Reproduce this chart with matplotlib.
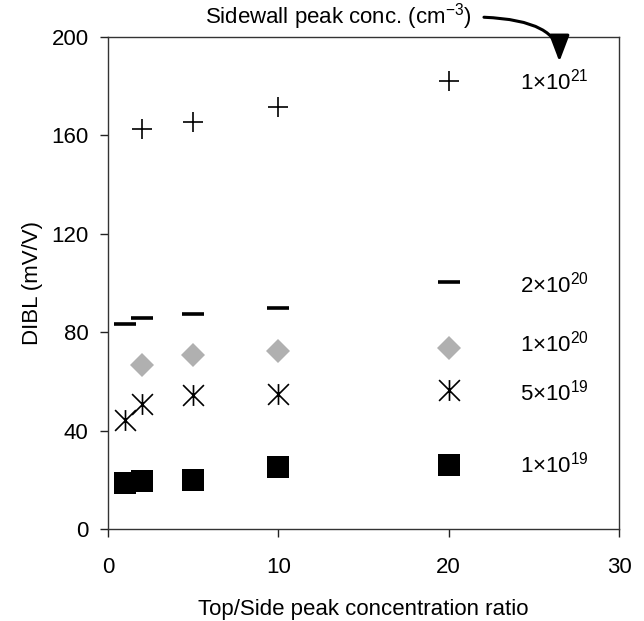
import matplotlib
matplotlib.use("Agg")
import matplotlib.pyplot as plt
from matplotlib.path import Path

plt.rcParams['font.family'] = ['Liberation Sans', 'DejaVu Sans']
plt.rcParams['mathtext.fontset'] = 'custom'
plt.rcParams['mathtext.rm'] = 'Liberation Sans'
plt.rcParams['mathtext.it'] = 'Liberation Sans:italic'
plt.rcParams['mathtext.bf'] = 'Liberation Sans:bold'

# Data (Top/Side peak concentration ratio vs DIBL in mV/V)
x_1e21 = [2, 5, 10, 20]
y_1e21 = [162.5, 165.6, 171.7, 182.0]
x_2e20 = [1, 2, 5, 10, 20]
y_2e20 = [83.3, 85.8, 87.5, 90.0, 100.5]
x_1e20 = [2, 5, 10, 20]
y_1e20 = [66.7, 70.7, 72.5, 73.5]
x_5e19 = [1, 2, 5, 10, 20]
y_5e19 = [44.3, 51.0, 54.5, 54.9, 56.5]
x_1e19 = [1, 2, 5, 10, 20]
y_1e19 = [18.7, 19.7, 20.1, 25.2, 26.1]

series_labels = [r'1×10$^{21}$', r'2×10$^{20}$', r'1×10$^{20}$', r'5×10$^{19}$', r'1×10$^{19}$']
label_y = [182, 99.5, 75.5, 55.5, 26]
label_x = 24.2

x_ticks = [0, 10, 20, 30]
y_ticks = [0, 40, 80, 120, 160, 200]

# asterisk: vertical bar + X
ast = Path([(0, -1), (0, 1), (-1, -1), (1, 1), (-1, 1), (1, -1)],
           [Path.MOVETO, Path.LINETO, Path.MOVETO, Path.LINETO, Path.MOVETO, Path.LINETO])

fig = plt.figure(figsize=(6.44, 6.21), dpi=100)
ax = fig.add_axes([108/644, 1-529/621, (619-108)/644, (529-37)/621])

ax.plot(x_1e21, y_1e21, ls='none', marker='+', ms=15, mew=1.2, color='black')
ax.plot(x_2e20, y_2e20, ls='none', marker='_', ms=16, mew=2.6, color='black')
ax.plot(x_1e20, y_1e20, ls='none', marker='D', ms=12, mew=0, color='#b0b0b0')
ax.plot(x_5e19, y_5e19, ls='none', marker=ast, ms=15, mew=1.2, color='black',
        markerfacecolor='none')
ax.plot(x_1e19, y_1e19, ls='none', marker='s', ms=15.5, mew=0, color='black')

for lab, ly in zip(series_labels, label_y):
    ax.text(label_x, ly, lab, fontsize=16, ha='left', va='center')

ax.set_xlim(0, 30)
ax.set_ylim(0, 200)
ax.set_xticks(x_ticks)
ax.set_yticks(y_ticks)
ax.tick_params(axis='both', direction='out', length=6, width=1, labelsize=16, color='#222222')
ax.tick_params(axis='x', pad=14)
ax.tick_params(axis='y', pad=8)
for s in ax.spines.values():
    s.set_color('#333333')
    s.set_linewidth(1)

ax.set_xlabel('Top/Side peak concentration ratio', fontsize=16, labelpad=15)
ax.set_ylabel('DIBL (mV/V)', fontsize=16, labelpad=6)

ax.annotate(r'Sidewall peak conc. (cm$^{-3}$)', xy=(26.5, 190), xycoords='data',
            xytext=(205/644, 1-17/621), textcoords='figure fraction',
            ha='left', va='center', fontsize=16, annotation_clip=False,
            arrowprops=dict(arrowstyle='-|>,head_length=1.0,head_width=0.38',
                            connectionstyle='angle3,angleA=0,angleB=90',
                            relpos=(1.0, 0.5), shrinkA=7, shrinkB=0,
                            color='black', lw=2.2))

fig.savefig('out.png', dpi=100, facecolor='white')
